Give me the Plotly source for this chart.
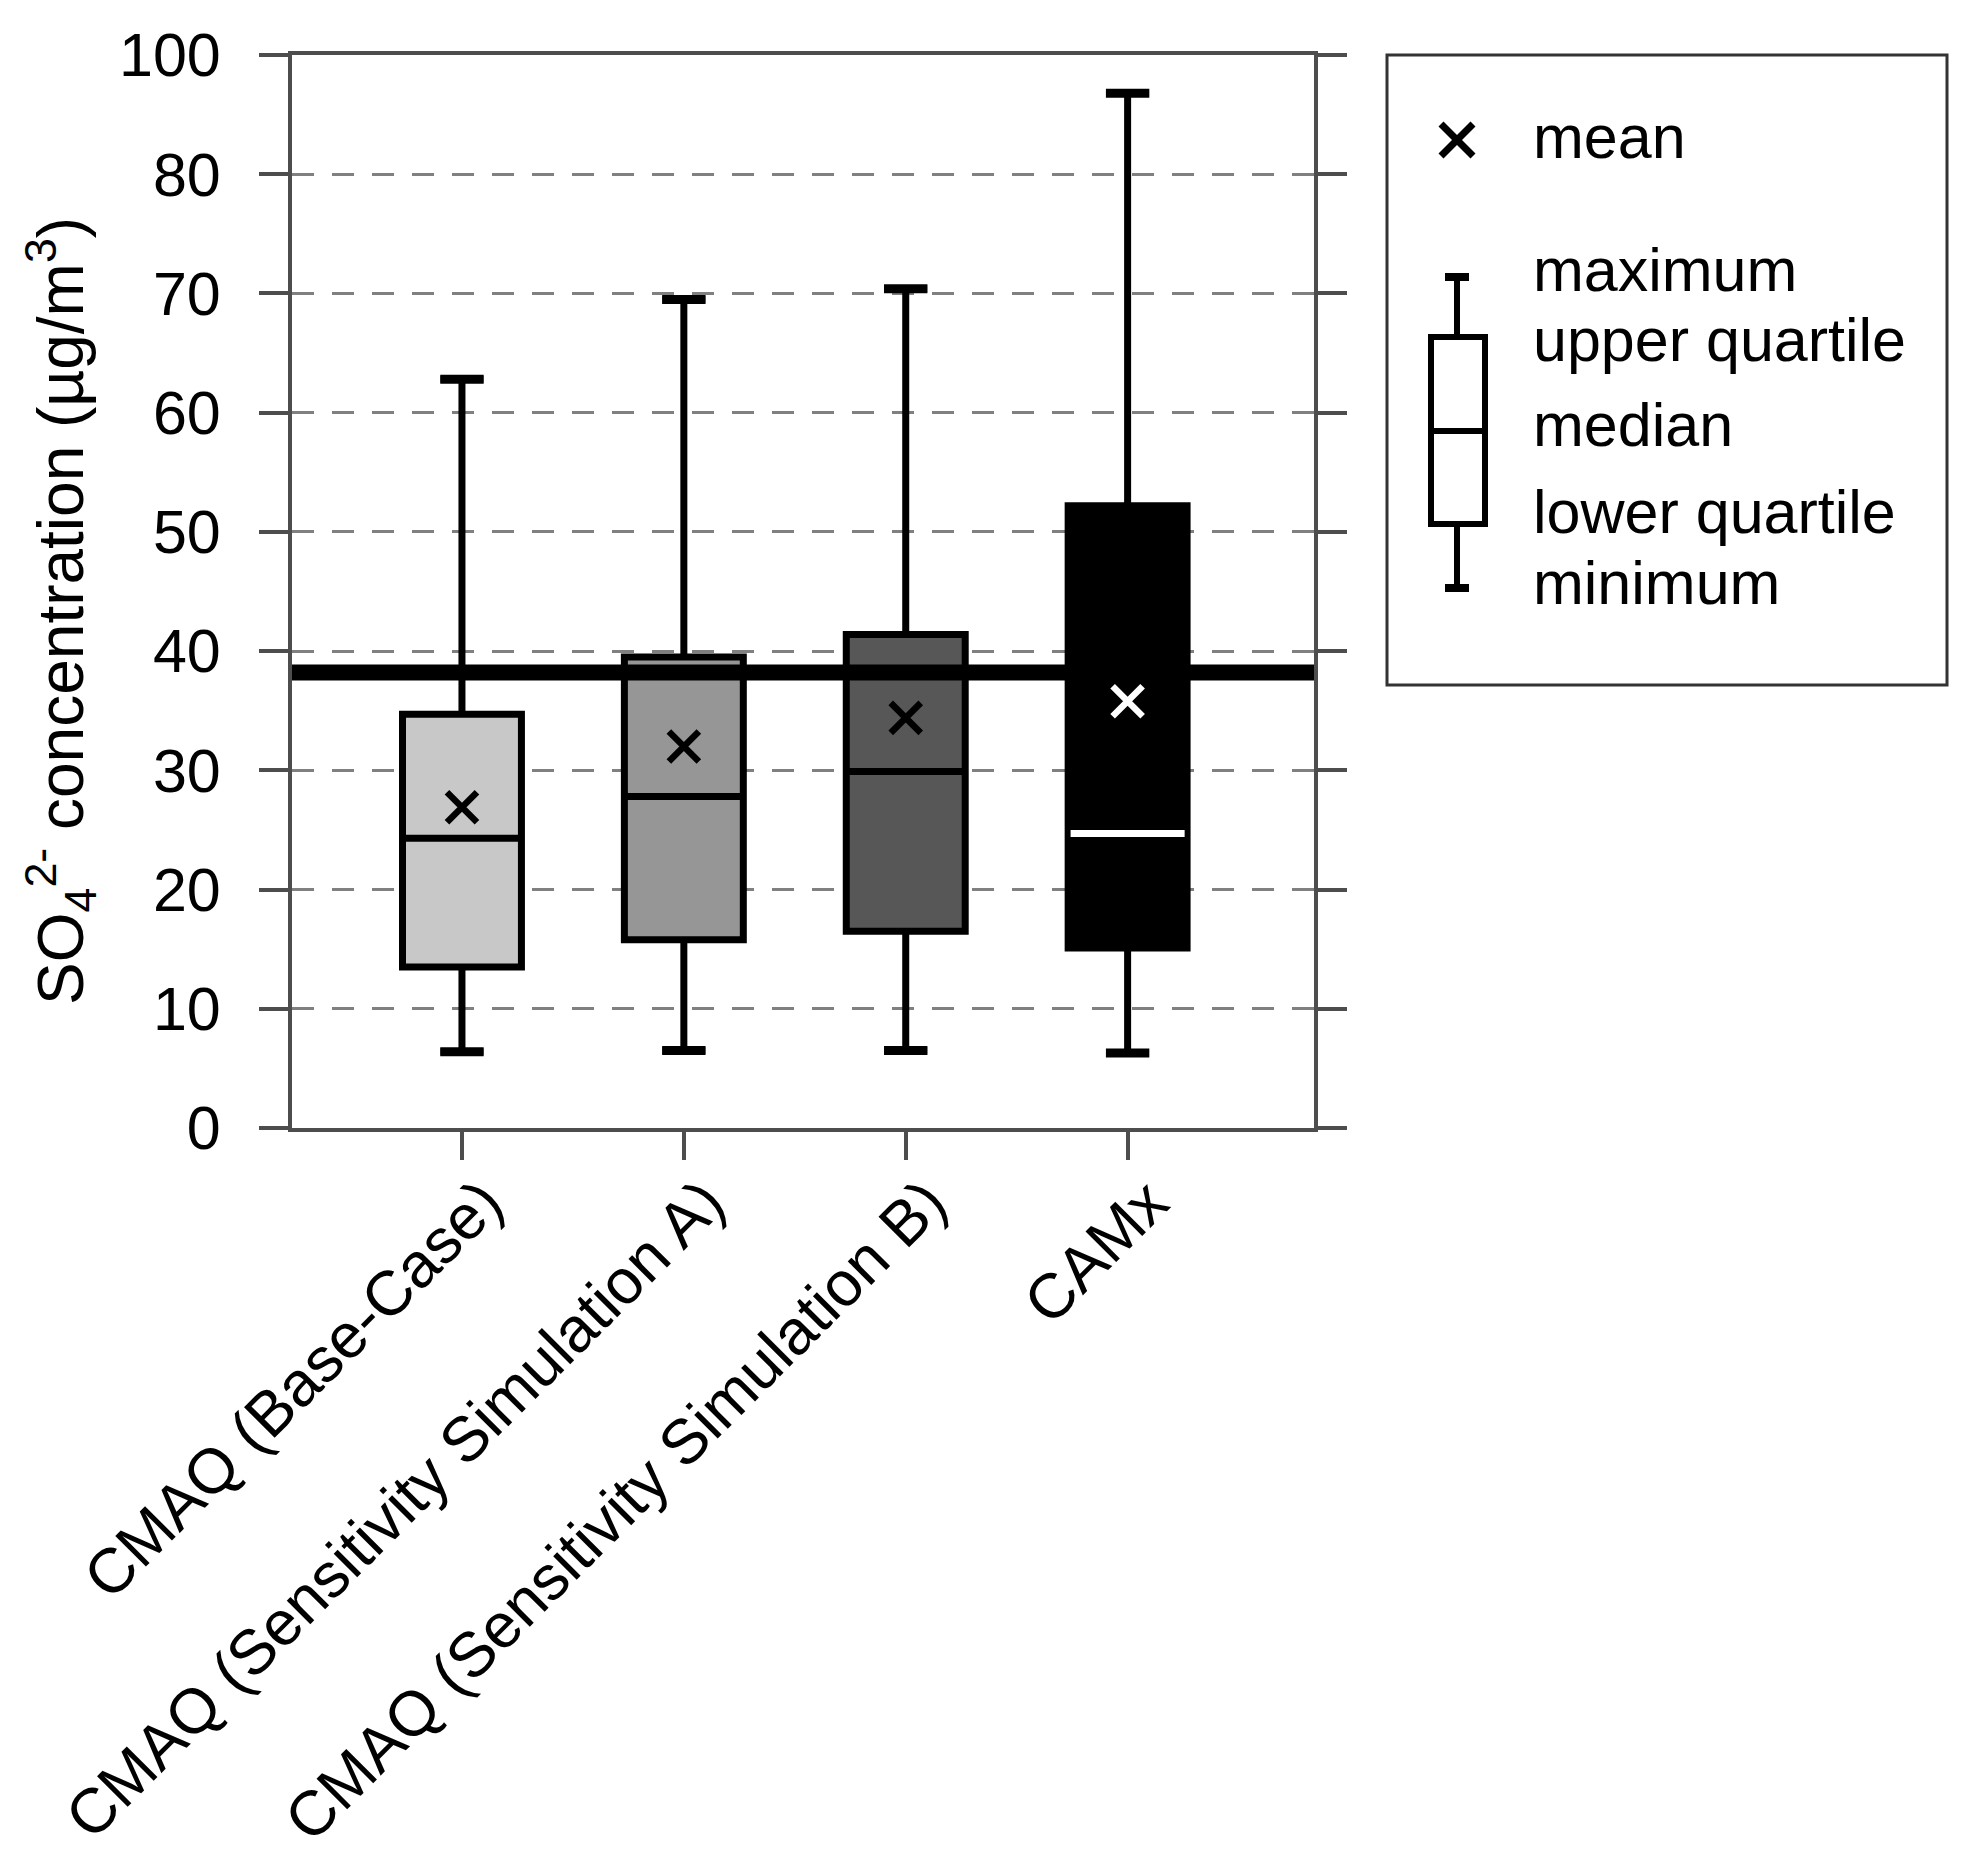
import plotly.graph_objects as go

# ---------------- data ----------------
categories = [
    "CMAQ (Base-Case)",
    "CMAQ (Sensitivity Simulation A)",
    "CMAQ (Sensitivity Simulation B)",
    "CAMx",
]
maximum = [62.8, 69.5, 70.4, 86.8]
upper_quartile = [34.7, 39.5, 41.4, 52.2]
median = [24.3, 27.8, 29.9, 24.7]
lower_quartile = [13.5, 15.8, 16.5, 15.1]
minimum = [6.4, 6.5, 6.5, 6.3]
mean = [26.9, 32.0, 34.4, 35.8]
observed_mean = 38.2

y_tick_vals = [0, 10, 20, 30, 40, 50, 60, 70, 80, 90]
y_tick_text = ["0", "10", "20", "30", "40", "50", "60", "70", "80", "100"]

legend_labels = ["maximum", "upper quartile", "median", "lower quartile", "minimum"]

# ---------------- style ----------------
FONT = "Liberation Sans, Arial, Helvetica, sans-serif"
FS = 61
box_fills = ["#c8c8c8", "#969696", "#575757", "#000000"]
mean_colors = ["black", "black", "black", "white"]
median_overlay = [None, None, None, "white"]
AXC = "#4d4d4d"
BOX_W = 0.536

# page is 1964x1873, html body has an 8px margin
OFF = 8
FW, FH = 1964 - 2 * OFF, 1873 - 2 * OFF
# plot area in page pixel coordinates
PL, PR, PT, PB = 292, 1314, 55, 1128


def px(x):
    return (x - PL) / (PR - PL)


def py(y):
    return (PB - y) / (PB - PT)


fig = go.Figure()

for i, cat in enumerate(categories):
    fig.add_trace(go.Box(
        x=[cat],
        q1=[lower_quartile[i]],
        median=[median[i]],
        q3=[upper_quartile[i]],
        lowerfence=[minimum[i]],
        upperfence=[maximum[i]],
        width=BOX_W,
        whiskerwidth=0.36,
        fillcolor=box_fills[i],
        line=dict(color="black", width=7),
        boxpoints=False,
        showlegend=False,
        hoverinfo="skip",
    ))
    if median_overlay[i]:
        fig.add_shape(type="line", xref="x", yref="y",
                      x0=i - 0.257, x1=i + 0.257, y0=median[i], y1=median[i],
                      line=dict(color=median_overlay[i], width=7), layer="above")

# thicker whisker caps
fig.add_trace(go.Scatter(
    x=categories + categories, y=maximum + minimum, mode="markers",
    marker=dict(symbol="line-ew", size=31, line=dict(width=9, color="black")),
    showlegend=False, hoverinfo="skip",
))

fig.add_trace(go.Scatter(
    x=categories, y=mean, mode="markers",
    marker=dict(symbol="x-thin", size=30,
                line=dict(width=6.5, color=mean_colors)),
    showlegend=False, hoverinfo="skip",
))

fig.add_hline(y=observed_mean, line=dict(color="black", width=16), layer="above")

# ---------------- legend (drawn) ----------------
shapes = []
shapes.append(dict(type="rect", xref="paper", yref="paper",
                   x0=px(1387), x1=px(1947), y0=py(685), y1=py(55),
                   line=dict(color="#333333", width=3), fillcolor="white", layer="above"))
# mean X
cx, cy, r = 1457, 140, 16
shapes.append(dict(type="line", xref="paper", yref="paper",
                   x0=px(cx - r), x1=px(cx + r), y0=py(cy - r), y1=py(cy + r),
                   line=dict(color="black", width=7)))
shapes.append(dict(type="line", xref="paper", yref="paper",
                   x0=px(cx - r), x1=px(cx + r), y0=py(cy + r), y1=py(cy - r),
                   line=dict(color="black", width=7)))
# box icon
bx = 1457
shapes.append(dict(type="line", xref="paper", yref="paper",
                   x0=px(bx), x1=px(bx), y0=py(276), y1=py(337),
                   line=dict(color="black", width=6)))
shapes.append(dict(type="line", xref="paper", yref="paper",
                   x0=px(bx), x1=px(bx), y0=py(524), y1=py(589),
                   line=dict(color="black", width=6)))
shapes.append(dict(type="line", xref="paper", yref="paper",
                   x0=px(bx - 12), x1=px(bx + 12), y0=py(277), y1=py(277),
                   line=dict(color="black", width=8)))
shapes.append(dict(type="line", xref="paper", yref="paper",
                   x0=px(bx - 12), x1=px(bx + 12), y0=py(588), y1=py(588),
                   line=dict(color="black", width=8)))
shapes.append(dict(type="rect", xref="paper", yref="paper",
                   x0=px(1431), x1=px(1485), y0=py(524), y1=py(337),
                   line=dict(color="black", width=6), fillcolor="white"))
shapes.append(dict(type="line", xref="paper", yref="paper",
                   x0=px(1431), x1=px(1485), y0=py(431), y1=py(431),
                   line=dict(color="black", width=6)))
for s in shapes:
    fig.add_shape(**s)

annotations = [dict(text="mean", x=px(1531), y=py(137), xref="paper", yref="paper",
                    xanchor="left", yanchor="middle", showarrow=False,
                    font=dict(family=FONT, size=FS, color="black"))]
for lab, yy in zip(legend_labels, [270, 340, 425, 512, 583]):
    annotations.append(dict(text=lab, x=px(1531), y=py(yy), xref="paper", yref="paper",
                            xanchor="left", yanchor="middle", showarrow=False,
                            font=dict(family=FONT, size=FS, color="black")))
annotations.append(dict(
    text="SO<sub>4</sub><sup>2-</sup> concentration (µg/m<sup>3</sup>)",
    x=px(60), y=py(611), xref="paper", yref="paper", textangle=-90,
    xanchor="center", yanchor="middle", showarrow=False,
    font=dict(family=FONT, size=64, color="black")))

fig.update_layout(
    width=FW, height=FH,
    margin=dict(l=PL - OFF, r=FW - (PR - OFF), t=PT - OFF, b=FH - (PB - OFF), pad=0),
    paper_bgcolor="white", plot_bgcolor="white",
    font=dict(family=FONT, size=FS, color="black"),
    boxmode="overlay",
    annotations=annotations,
    showlegend=False,
)
fig.update_xaxes(
    type="category", range=[-0.766, 3.84],
    showline=True, linecolor=AXC, linewidth=4, mirror=True,
    ticks="outside", ticklen=28, tickwidth=4, tickcolor=AXC,
    tickangle=-45, tickfont=dict(family=FONT, size=63, color="black"),
    ticklabelstandoff=-20, ticklabelshift=22,
    showgrid=False, zeroline=False,
)
fig.update_yaxes(
    range=[0, 90], tickmode="array", tickvals=y_tick_vals, ticktext=y_tick_text,
    showline=True, linecolor=AXC, linewidth=4, mirror="ticks",
    ticks="outside", ticklen=29, tickwidth=4, tickcolor=AXC,
    tickfont=dict(family=FONT, size=FS, color="black"),
    ticklabelstandoff=26,
    showgrid=True, gridcolor="#808080", gridwidth=3, griddash="22px,18px",
    zeroline=False,
)

fig.write_html("out.html")
